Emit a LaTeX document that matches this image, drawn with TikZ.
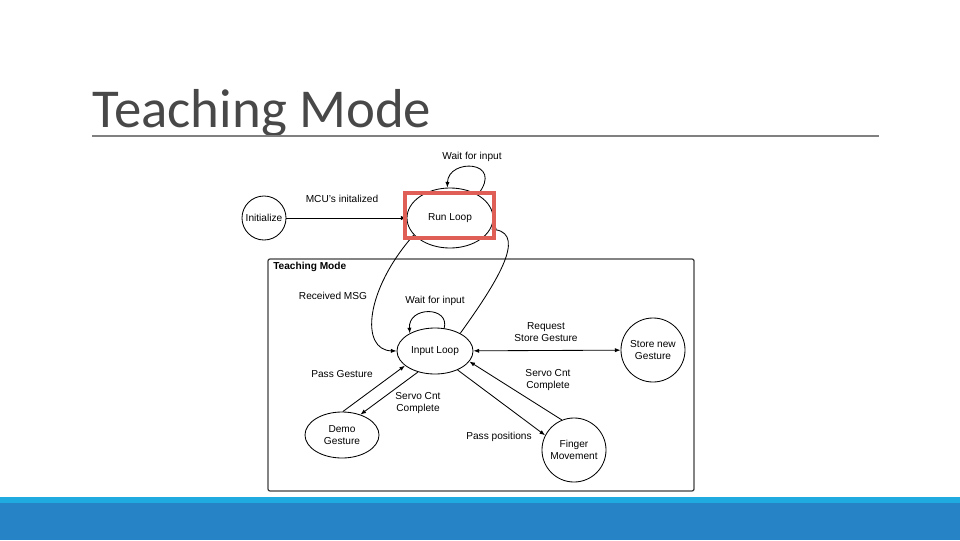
\documentclass[tikz,border=0pt]{standalone}
\usepackage{fontspec}
\setmainfont{Liberation Sans}
\newfontfamily\titlefont{Carlito}
\usetikzlibrary{arrows.meta,shapes.geometric}
\definecolor{titlegray}{HTML}{484848}
\definecolor{rulegray}{HTML}{808080}
\definecolor{markred}{HTML}{DF5F57}
\definecolor{bandlight}{HTML}{1FABE0}
\definecolor{banddark}{HTML}{2683C6}

\begin{document}
\begin{tikzpicture}[x=0.025cm, y=-0.025cm,
    state/.style={draw, line width=0.6pt, inner sep=0pt, align=center, font=\fontsize{7.2}{8.6}\selectfont},
    round/.style={state, circle},
    oval/.style={state, ellipse},
    lbl/.style={align=center, inner sep=0pt, font=\fontsize{7.2}{8.6}\selectfont},
    arr/.style={-{Latex[length=4pt,width=3pt]}, line width=0.6pt},
    both/.style={{Latex[length=4pt,width=3pt]}-{Latex[length=4pt,width=3pt]}, line width=0.6pt}]

    \useasboundingbox (0,0) rectangle (960,540);

    % Slide title and bands
    \node[anchor=base west, inner sep=0pt, text=titlegray, font=\titlefont\fontsize{39}{39}\selectfont] (title) at (92,127) {Teaching Mode};
    \draw[rulegray, line width=1pt] (92,136) -- (879,136);
    \fill[bandlight] (0,497) rectangle (960,503);
    \fill[banddark] (0,503) rectangle (960,540);

    % Frame of the mode
    \node[draw=black!75, line width=0.9pt, rounded corners=1.5pt, minimum width=10.65cm, minimum height=5.8cm] (mode) at (481,375) {};
    \node[lbl, anchor=north west, font=\bfseries\fontsize{7.2}{8.6}\selectfont] (modename) at (273,262) {Teaching Mode};

    % Top row of states
    \node[round, minimum size=1.1cm] (init) at (264,218) {Initialize};
    \node[oval, minimum width=2.15cm, minimum height=1.5cm] (run) at (450,218) {Run Loop};

    % States inside the mode
    \node[oval, minimum width=1.9cm, minimum height=1.15cm] (inloop) at (435,351) {Input Loop};
    \node[round, minimum size=1.6cm] (store) at (653,350) {Store new\\Gesture};
    \node[oval, minimum width=1.85cm, minimum height=1.15cm] (demo) at (342,435) {Demo\\Gesture};
    \node[round, minimum size=1.6cm] (finger) at (574,450) {Finger\\Movement};

    % Edge labels
    \node[lbl] (l1) at (342,199) {MCU's initalized};
    \node[lbl] (l2) at (472,157) {Wait for input};
    \node[lbl] (l3) at (333,296) {Received MSG};
    \node[lbl] (l4) at (435,301) {Wait for input};
    \node[lbl] (l5) at (546,332) {Request\\Store Gesture};
    \node[lbl] (l6) at (342,374) {Pass Gesture};
    \node[lbl] (l7) at (418,403) {Servo Cnt\\Complete};
    \node[lbl] (l8) at (548,380) {Servo Cnt\\Complete};
    \node[lbl] (l9) at (499,437) {Pass positions};

    % Edges between states
    \draw[arr] (init) -- (run);
    \draw[arr] (run.40) .. controls (505,160) and (448,158) .. (run.95);
    \draw[arr] (run.205) .. controls (365,290) and (360,350) .. (inloop.west);
    \draw[arr] (inloop.35) .. controls (495,285) and (527,235) .. (run.-15);
    \draw[arr] (inloop.68) .. controls (450,306) and (408,306) .. (inloop.145);
    \draw[both] (inloop) -- (store);

    \draw[arr] (demo.88) -- (inloop.206);
    \draw[arr] (inloop.231) -- (demo.48);
    \draw[arr] (finger.112) -- (inloop.343);
    \draw[arr] (inloop.320) -- (finger.153);

    % Highlight on the run loop
    \draw[markred, line width=2.9pt] (405,193) rectangle (494,238);
\end{tikzpicture}
\end{document}
